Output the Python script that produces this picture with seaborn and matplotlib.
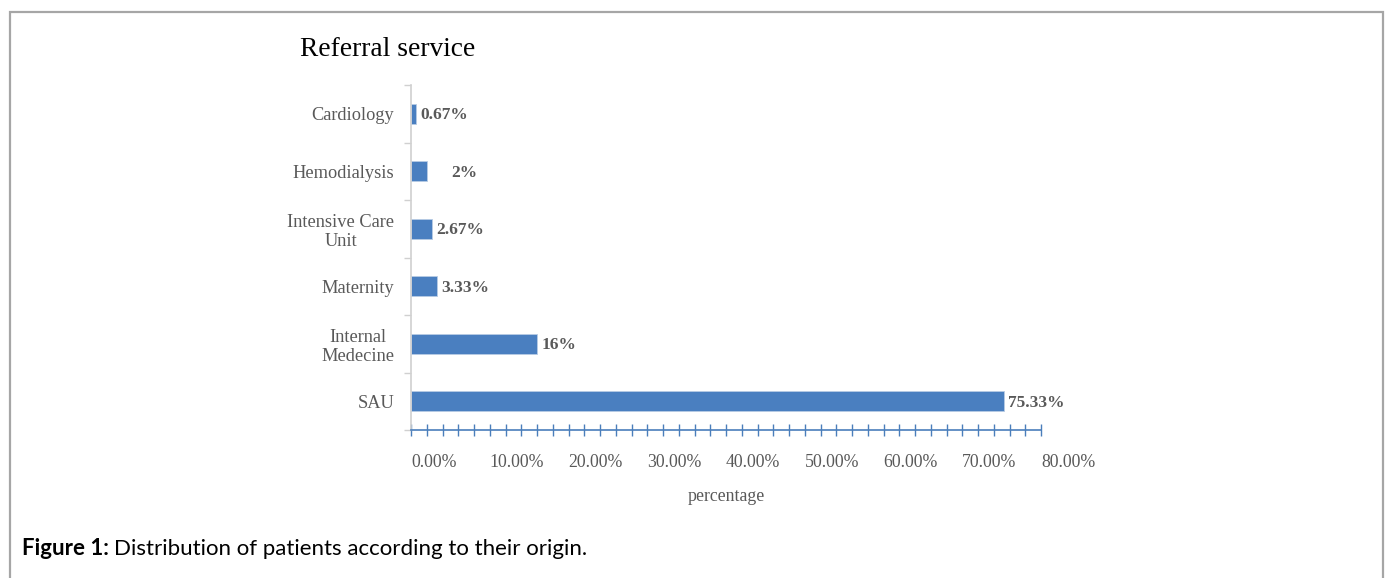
import matplotlib
matplotlib.use("Agg")
import matplotlib.pyplot as plt
import matplotlib.patches as mpatches
from matplotlib.ticker import MultipleLocator, FuncFormatter, FixedLocator
import seaborn as sns
import pandas as pd

# ---- data ----
categories = ["Cardiology", "Hemodialysis", "Intensive Care\nUnit", "Maternity",
              "Internal\nMedecine", "SAU"]
values = [0.67, 2, 2.67, 3.33, 16, 75.33]
value_labels = ["0.67%", "2%", "2.67%", "3.33%", "16%", "75.33%"]
title = "Referral service"
xlabel = "percentage"
caption_bold = "Figure 1:"
caption_text = "Distribution of patients according to their origin."

# ---- style ----
sns.set_style("white")
plt.rcParams["font.family"] = ["Liberation Serif", "DejaVu Serif"]
GRAY = "#595959"
BLUE = "#4a7ebb"
BAR = "#4a7fc0"

df = pd.DataFrame({"category": categories, "value": values})

fig = plt.figure(figsize=(13.89, 5.78), dpi=100)
ax = fig.add_axes([411 / 1389, 1 - 430 / 578, 630 / 1389, 345 / 578])

sns.barplot(data=df, x="value", y="category", orient="h", color=BAR,
            width=0.35, saturation=1, edgecolor="#b8cce4", linewidth=0.6, ax=ax)

ax.set_xlim(0, 80)
ax.set_ylim(len(categories) - 0.5, -0.5)

# spines
for s in ["top", "right"]:
    ax.spines[s].set_visible(False)
ax.spines["left"].set_color("#d0d0d0")
ax.spines["left"].set_linewidth(1.2)
ax.spines["bottom"].set_color(BLUE)
ax.spines["bottom"].set_linewidth(1.2)

# x ticks
ax.xaxis.set_major_locator(MultipleLocator(10))
ax.xaxis.set_minor_locator(MultipleLocator(2))
ax.xaxis.set_major_formatter(FuncFormatter(lambda v, p: f"{v:.2f}%"))
ax.tick_params(axis="x", which="both", direction="inout", length=9, width=1,
               color=BLUE, bottom=True)
ax.tick_params(axis="x", which="major", pad=13, labelsize=12.8, labelcolor=GRAY)
for lab in ax.get_xticklabels():
    lab.set_horizontalalignment("left")

# y ticks
ax.tick_params(axis="y", which="major", length=0, pad=12, labelsize=13.2, labelcolor=GRAY)
ax.yaxis.set_minor_locator(FixedLocator([i + 0.5 for i in range(-1, len(categories))]))
ax.tick_params(axis="y", which="minor", length=5, width=1, color="#d0d0d0", left=True)
for lab in ax.get_yticklabels():
    lab.set_multialignment("center")
    lab.set_linespacing(1.2)

ax.set_ylabel("")
ax.set_xlabel(xlabel, fontsize=12.8, color=GRAY, labelpad=12)

# data labels
label_shift = {1: 15}
for i, (v, t) in enumerate(zip(values, value_labels)):
    ax.annotate(t, xy=(v, i), xytext=(3 + label_shift.get(i, 0), -1),
                textcoords="offset points", va="center", ha="left",
                fontsize=12.5, fontweight="bold", color=GRAY)

# title
fig.text(388 / 1389, 1 - 50 / 578, title, ha="center", va="center",
         fontsize=19.8, color="black")

# border
fig.add_artist(mpatches.Rectangle((10 / 1389, -0.1), (1383 - 10) / 1389,
                                  (578 - 12) / 578 + 0.1, transform=fig.transFigure,
                                  fill=False, edgecolor="#a6a6a6", linewidth=1.6))

# caption
t1 = fig.text(22 / 1389, 1 - 555 / 578, caption_bold, ha="left", va="baseline",
              fontsize=16, fontweight="bold", family="Lato", color="black")
fig.canvas.draw()
bb = t1.get_window_extent()
fig.text((bb.x1 + 5) / 1389, 1 - 555 / 578, caption_text, ha="left", va="baseline",
         fontsize=16, family="Lato", color="black")

fig.savefig("out.png", dpi=100)
